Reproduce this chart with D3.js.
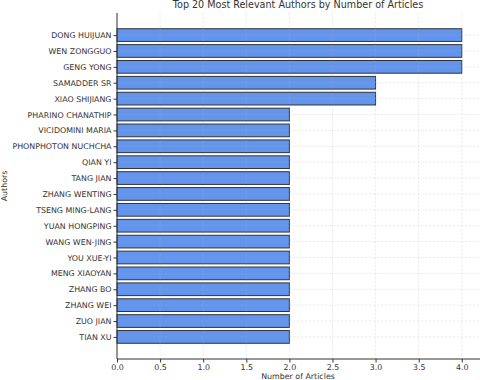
<!DOCTYPE html>
<html>
<head>
<meta charset="utf-8">
<script src="https://cdn.jsdelivr.net/npm/d3@7"></script>
<style>
  body { margin: 0; background: #fff; }
  svg { font-family: "DejaVu Sans", sans-serif; }
</style>
</head>
<body>
<div id="chart"></div>
<script>
// data
const authors = [
  "DONG HUIJUAN", "WEN ZONGGUO", "GENG YONG", "SAMADDER SR", "XIAO SHIJIANG",
  "PHARINO CHANATHIP", "VICIDOMINI MARIA", "PHONPHOTON NUCHCHA", "QIAN YI", "TANG JIAN",
  "ZHANG WENTING", "TSENG MING-LANG", "YUAN HONGPING", "WANG WEN-JING", "YOU XUE-YI",
  "MENG XIAOYAN", "ZHANG BO", "ZHANG WEI", "ZUO JIAN", "TIAN XU"
];
const articles = [4, 4, 4, 3, 3, 2, 2, 2, 2, 2, 2, 2, 2, 2, 2, 2, 2, 2, 2, 2];
const xTicks = [0, 0.5, 1, 1.5, 2, 2.5, 3, 3.5, 4];

let width = 480;
let height = 380;
let margin = {top: 13, right: 1, bottom: 21, left: 117};
let fs = 7.9;

let svg = d3.select("#chart").append("svg")
    .attr("width", width)
    .attr("height", height);

let x = d3.scaleLinear()
    .domain([0, 4.2])
    .range([margin.left, width - margin.right]);

// index scale, like matplotlib barh with inverted y
let n = authors.length;
let y = d3.scaleLinear()
    .domain([-1.39, n - 1 + 1.39])
    .range([margin.top, height - margin.bottom]);

let barH = y(0.4) - y(-0.4);

// bars
svg.append("g")
    .selectAll("rect")
    .data(authors)
    .enter()
    .append("rect")
    .attr("x", x(0))
    .attr("y", (d, i) => y(i) - barH / 2)
    .attr("width", (d, i) => x(articles[i]) - x(0))
    .attr("height", barH)
    .attr("fill", "#6495ED")
    .attr("stroke", "#333")
    .attr("stroke-width", 1);

// grid on top, faint dashed
let grid = svg.append("g")
    .attr("stroke", "#b0b0b0")
    .attr("stroke-width", 0.8)
    .attr("stroke-dasharray", "2.5,1.5")
    .attr("opacity", 0.3);

grid.selectAll("line.v")
    .data(xTicks)
    .enter()
    .append("line")
    .attr("x1", d => x(d))
    .attr("x2", d => x(d))
    .attr("y1", margin.top)
    .attr("y2", height - margin.bottom);

grid.selectAll("line.h")
    .data(authors)
    .enter()
    .append("line")
    .attr("x1", margin.left)
    .attr("x2", width - margin.right)
    .attr("y1", (d, i) => y(i))
    .attr("y2", (d, i) => y(i));

// x axis
let xAxis = d3.axisBottom(x)
    .tickValues(xTicks)
    .tickFormat(d3.format(".1f"))
    .tickSize(3.5)
    .tickPadding(2);

let gx = svg.append("g")
    .attr("transform", "translate(0," + (height - margin.bottom) + ")")
    .call(xAxis);
gx.select(".domain").remove();
gx.selectAll("text").attr("font-size", fs).attr("fill", "#333").attr("font-family", "DejaVu Sans");
gx.selectAll("line").attr("stroke", "#333");

// y axis
let yAxis = d3.axisLeft(y)
    .tickValues(d3.range(n))
    .tickFormat(i => authors[i])
    .tickSize(3.5)
    .tickPadding(2);

let gy = svg.append("g")
    .attr("transform", "translate(" + margin.left + ",0)")
    .call(yAxis);
gy.select(".domain").remove();
gy.selectAll("text").attr("font-size", fs).attr("fill", "#333").attr("font-family", "DejaVu Sans");
gy.selectAll("line").attr("stroke", "#333");

// spines (left and bottom)
svg.append("line")
    .attr("x1", margin.left).attr("x2", margin.left)
    .attr("y1", margin.top).attr("y2", height - margin.bottom)
    .attr("stroke", "#333").attr("stroke-width", 1);
svg.append("line")
    .attr("x1", margin.left).attr("x2", width)
    .attr("y1", height - margin.bottom).attr("y2", height - margin.bottom)
    .attr("stroke", "#333").attr("stroke-width", 1);

// titles
svg.append("text")
    .attr("x", x(2.1))
    .attr("y", 8)
    .attr("text-anchor", "middle")
    .attr("font-size", 9.6)
    .attr("fill", "#333")
    .text("Top 20 Most Relevant Authors by Number of Articles");

svg.append("text")
    .attr("x", x(2.1))
    .attr("y", 379)
    .attr("text-anchor", "middle")
    .attr("font-size", fs)
    .attr("fill", "#333")
    .text("Number of Articles");

svg.append("text")
    .attr("transform", "translate(7," + ((margin.top + height - margin.bottom) / 2) + ") rotate(-90)")
    .attr("text-anchor", "middle")
    .attr("font-size", fs)
    .attr("fill", "#333")
    .text("Authors");
</script>
</body>
</html>
